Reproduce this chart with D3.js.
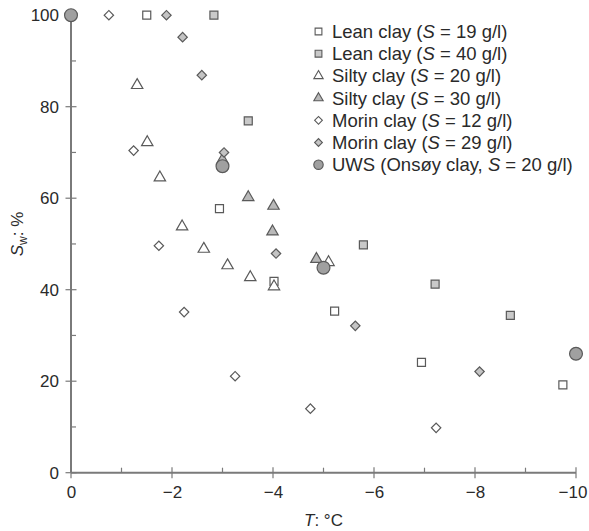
<!DOCTYPE html>
<html>
<head>
<meta charset="utf-8">
<script src="https://cdn.jsdelivr.net/npm/d3@7"></script>
<style>
html,body{margin:0;padding:0;background:#fff;}
svg{display:block;font-family:"Liberation Sans",Arial,sans-serif;}
</style>
</head>
<body>
<svg id="chart" width="589" height="531"></svg>
<script>
// ---- data (T in °C, Sw in %) ----
const leanClay19 = [[-1.5,100],[-2.94,57.7],[-4.02,41.8],[-5.22,35.3],[-6.94,24.1],[-9.74,19.2]];
const leanClay40 = [[-2.83,100],[-3.51,76.9],[-5.79,49.8],[-7.21,41.2],[-8.7,34.4]];
const siltyClay20 = [[-1.31,84.7],[-1.51,72.2],[-1.76,64.5],[-2.2,53.8],[-2.63,48.9],[-3.1,45.3],[-3.55,42.7],[-4.02,40.7],[-5.1,46.0]];
const siltyClay30 = [[-3.0,68.4],[-3.51,60.2],[-4.01,58.3],[-3.99,52.7],[-4.86,46.7]];
const morinClay12 = [[-0.75,100],[-1.24,70.4],[-1.74,49.6],[-2.24,35.1],[-3.25,21.1],[-4.74,14.0],[-7.23,9.8]];
const morinClay29 = [[-1.89,100],[-2.21,95.2],[-2.59,86.9],[-3.03,70.0],[-4.06,47.9],[-5.63,32.1],[-8.09,22.1]];
const uws = [[0,100],[-3.0,67.0],[-5.0,44.8],[-10,26.0]];

const xTicks = [0,-2,-4,-6,-8,-10];
const xMinor = [-1,-3,-5,-7,-9];
const yTicks = [0,20,40,60,80,100];
const yMinor = [10,30,50,70,90];

const series = [
  {pre:"Lean clay (", val:" = 19 g/l)", data:leanClay19, shape:"square", fill:"#ffffff"},
  {pre:"Lean clay (", val:" = 40 g/l)", data:leanClay40, shape:"square", fill:"#c9c9c9"},
  {pre:"Silty clay (", val:" = 20 g/l)", data:siltyClay20, shape:"triangle", fill:"#ffffff"},
  {pre:"Silty clay (", val:" = 30 g/l)", data:siltyClay30, shape:"triangle", fill:"#b9b9b9"},
  {pre:"Morin clay (", val:" = 12 g/l)", data:morinClay12, shape:"diamond", fill:"#ffffff"},
  {pre:"Morin clay (", val:" = 29 g/l)", data:morinClay29, shape:"diamond", fill:"#c4c4c4"},
  {pre:"UWS (Onsøy clay, ", val:" = 20 g/l)", data:uws, shape:"circle", fill:"#a0a0a0"}
];

const svg = d3.select("#chart");
const x = d3.scaleLinear().domain([0,-10]).range([71,576]);
const y = d3.scaleLinear().domain([0,100]).range([472.7,15.2]);
const axisCol = "#7a7a7a";
const textCol = "#2a2a2a";

// axes lines
const ax = svg.append("g");
ax.append("line").attr("x1",x(0)).attr("x2",x(-10)).attr("y1",y(0)).attr("y2",y(0))
  .attr("stroke",axisCol).attr("stroke-width",2);
ax.append("line").attr("x1",x(0)).attr("x2",x(0)).attr("y1",y(0)).attr("y2",y(100))
  .attr("stroke",axisCol).attr("stroke-width",2);
ax.selectAll(".xt").data(xTicks).join("line")
  .attr("x1",d=>x(d)).attr("x2",d=>x(d)).attr("y1",y(0)-5.5).attr("y2",y(0)+5.5)
  .attr("stroke",axisCol).attr("stroke-width",1.2);
ax.selectAll(".xm").data(xMinor).join("line")
  .attr("x1",d=>x(d)).attr("x2",d=>x(d)).attr("y1",y(0)-5).attr("y2",y(0))
  .attr("stroke",axisCol).attr("stroke-width",1.2);
ax.selectAll(".yt").data(yTicks).join("line")
  .attr("x1",x(0)-5.5).attr("x2",x(0)+5.5).attr("y1",d=>y(d)).attr("y2",d=>y(d))
  .attr("stroke",axisCol).attr("stroke-width",1.2);
ax.selectAll(".ym").data(yMinor).join("line")
  .attr("x1",x(0)).attr("x2",x(0)+5).attr("y1",d=>y(d)).attr("y2",d=>y(d))
  .attr("stroke",axisCol).attr("stroke-width",1.2);

// tick labels via d3 axes (no tick lines)
const fmt = d3.format("d");
const gx = svg.append("g").attr("transform",`translate(0,${y(0)})`)
  .call(d3.axisBottom(x).tickValues(xTicks).tickSize(0).tickPadding(13).tickFormat(d=>d===0?"0":fmt(d)));
const gy = svg.append("g").attr("transform",`translate(${x(0)},0)`)
  .call(d3.axisLeft(y).tickValues(yTicks).tickSize(0).tickPadding(12).tickFormat(fmt));
[gx,gy].forEach(g=>{
  g.select(".domain").remove();
  g.selectAll("text").attr("font-size",17).attr("fill",textCol)
   .attr("font-family","'Liberation Sans',Arial,sans-serif");
});
gx.selectAll(".tick text").filter(d=>d===-10).attr("dx",-3.5);

// axis titles
const xt = svg.append("text").attr("x",(x(0)+x(-10))/2).attr("y",526)
  .attr("text-anchor","middle").attr("font-size",17).attr("fill",textCol);
xt.append("tspan").attr("font-style","italic").text("T");
xt.append("tspan").text(": °C");
const yt = svg.append("text").attr("transform","translate(23,234) rotate(-90)")
  .attr("text-anchor","middle").attr("font-size",17).attr("fill",textCol);
yt.append("tspan").attr("font-style","italic").text("S");
yt.append("tspan").attr("font-size",12).attr("dy",4).text("w");
yt.append("tspan").attr("dy",-4).text(": %");

// symbols
function sym(shape, size){
  const t = {square:d3.symbolSquare, triangle:d3.symbolTriangle, diamond:d3.symbolSquare, circle:d3.symbolCircle}[shape];
  return d3.symbol().type(t).size(size)();
}
const sizes = {square:64, triangle:56, diamond:44, circle:130};
const lsizes = {square:46, triangle:38, diamond:30, circle:70};
const strokeCol = "#5a5a5a";

const pts = svg.append("g");
series.forEach(s=>{
  pts.selectAll(null).data(s.data).join("path")
    .attr("d", sym(s.shape, sizes[s.shape]))
    .attr("transform", d=>`translate(${x(d[0])},${y(d[1])})${s.shape==="diamond"?" rotate(45)":""}`)
    .attr("fill", s.fill).attr("stroke", strokeCol).attr("stroke-width",1.2);
});

// legend
const lg = svg.append("g");
const legTop = 31.5, legStep = 22.2;
series.forEach((s,i)=>{
  const yy = legTop + i*legStep;
  lg.append("path").attr("d", sym(s.shape, lsizes[s.shape]))
    .attr("transform",`translate(318.5,${yy})${s.shape==="diamond"?" rotate(45)":""}`)
    .attr("fill", s.fill).attr("stroke", strokeCol).attr("stroke-width",1.1);
  const t = lg.append("text").attr("x",332).attr("y",yy+6.5).attr("font-size",18.5).attr("fill",textCol);
  t.append("tspan").text(s.pre);
  t.append("tspan").attr("font-style","italic").text("S");
  t.append("tspan").text(s.val);
});
</script>
</body>
</html>
